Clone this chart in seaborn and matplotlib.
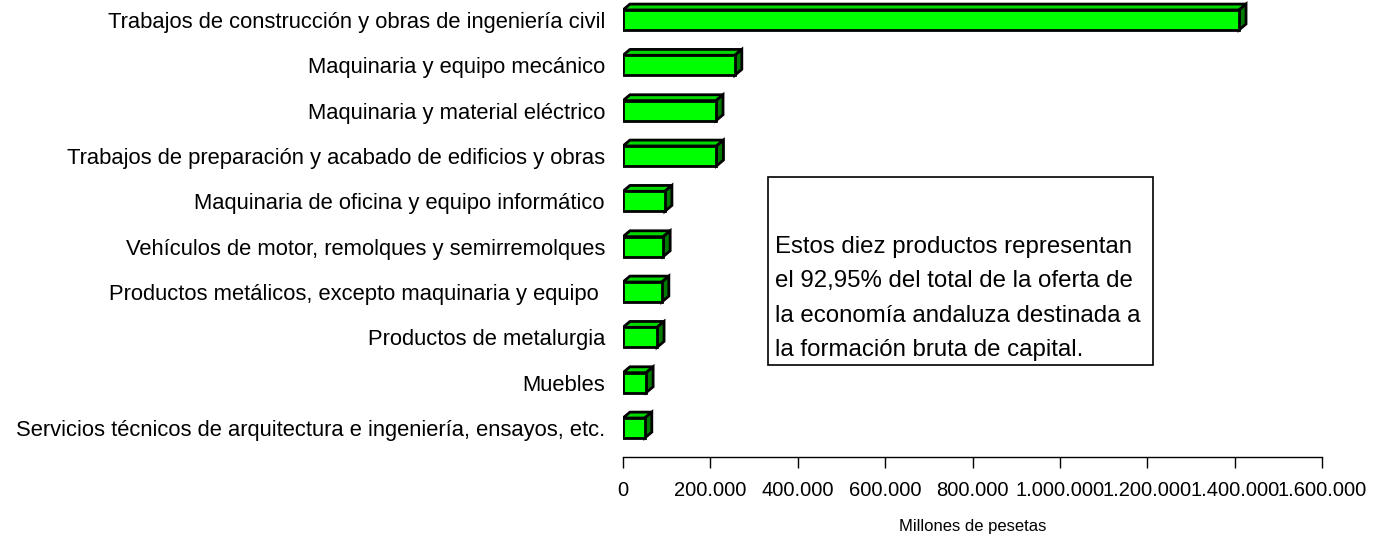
import matplotlib
matplotlib.use("Agg")
import matplotlib.pyplot as plt
from matplotlib.patches import Polygon, Rectangle
from matplotlib.ticker import FuncFormatter
from matplotlib import font_manager
import seaborn as sns
import pandas as pd

# --- datos ---
productos = [
    "Trabajos de construcción y obras de ingeniería civil",
    "Maquinaria y equipo mecánico",
    "Maquinaria y material eléctrico",
    "Trabajos de preparación y acabado de edificios y obras",
    "Maquinaria de oficina y equipo informático",
    "Vehículos de motor, remolques y semirremolques",
    "Productos metálicos, excepto maquinaria y equipo ",
    "Productos de metalurgia",
    "Muebles",
    "Servicios técnicos de arquitectura e ingeniería, ensayos, etc.",
]
millones_pesetas = [1410000, 256000, 213000, 214000, 96000, 92000, 89000, 78000, 53000, 50000]
ticks_x = [0, 200000, 400000, 600000, 800000, 1000000, 1200000, 1400000, 1600000]

texto_nota = ("Estos diez productos representan\n"
              "el 92,95% del total de la oferta de\n"
              "la economía andaluza destinada a\n"
              "la formación bruta de capital.")

df = pd.DataFrame({"producto": productos, "valor": millones_pesetas})

# --- estilo ---
sns.set_style("white")
nombres = {f.name for f in font_manager.fontManager.ttflist}
fuente = "Liberation Sans Narrow" if "Liberation Sans Narrow" in nombres else "Liberation Sans"
plt.rcParams["font.family"] = [fuente, "DejaVu Sans"]
plt.rcParams["text.color"] = "black"
plt.rcParams["axes.labelcolor"] = "black"

fig = plt.figure(figsize=(13.74, 5.42), dpi=100)
ax = fig.add_axes([0.4534, 0.1568, 0.5088, 0.8432])

sns.barplot(data=df, x="valor", y="producto", orient="h", color="#00FF00",
            saturation=1, edgecolor="black", linewidth=2, width=0.44, ax=ax, zorder=3)

# efecto 3D: cara superior y lateral a partir de cada barra
dx = 16000
dy = 0.13
for p in list(ax.patches):
    x0, y0 = p.get_x(), p.get_y()
    x1, y1 = x0 + p.get_width(), y0 + p.get_height()
    top = Polygon([(x0, y0), (x0 + dx, y0 - dy), (x1 + dx, y0 - dy), (x1, y0)],
                  closed=True, facecolor="#00D800", edgecolor="black", linewidth=2, zorder=2)
    side = Polygon([(x1, y0), (x1 + dx, y0 - dy), (x1 + dx, y1 - dy), (x1, y1)],
                   closed=True, facecolor="#007A00", edgecolor="black", linewidth=2, zorder=2)
    ax.add_patch(top)
    ax.add_patch(side)

ax.set_xlim(0, 1600000)
ax.set_ylim(9.64, -0.44)
ax.set_xticks(ticks_x)
ax.xaxis.set_major_formatter(FuncFormatter(lambda v, pos: f"{int(v):,}".replace(",", ".")))
ax.tick_params(axis="x", direction="out", length=8, width=1, pad=9, labelsize=14.5,
               bottom=True, colors="black")
ax.tick_params(axis="y", length=0, pad=13, labelsize=15.8, colors="black")
ax.set_xlabel("Millones de pesetas", fontsize=12, labelpad=14)
ax.set_ylabel("")

for lado in ["top", "right", "left"]:
    ax.spines[lado].set_visible(False)
ax.spines["bottom"].set_color("black")
ax.spines["bottom"].set_linewidth(1)

# cuadro de texto
fig.patches.append(Rectangle((768 / 1374, 1 - 365 / 542), 385 / 1374, 188 / 542,
                             transform=fig.transFigure, fill=False,
                             edgecolor="black", linewidth=1.2))
fig.text(775 / 1374, 1 - 236 / 542, texto_nota, fontsize=17.3, va="top", ha="left",
         linespacing=1.73)

fig.savefig("out.png", dpi=100)
